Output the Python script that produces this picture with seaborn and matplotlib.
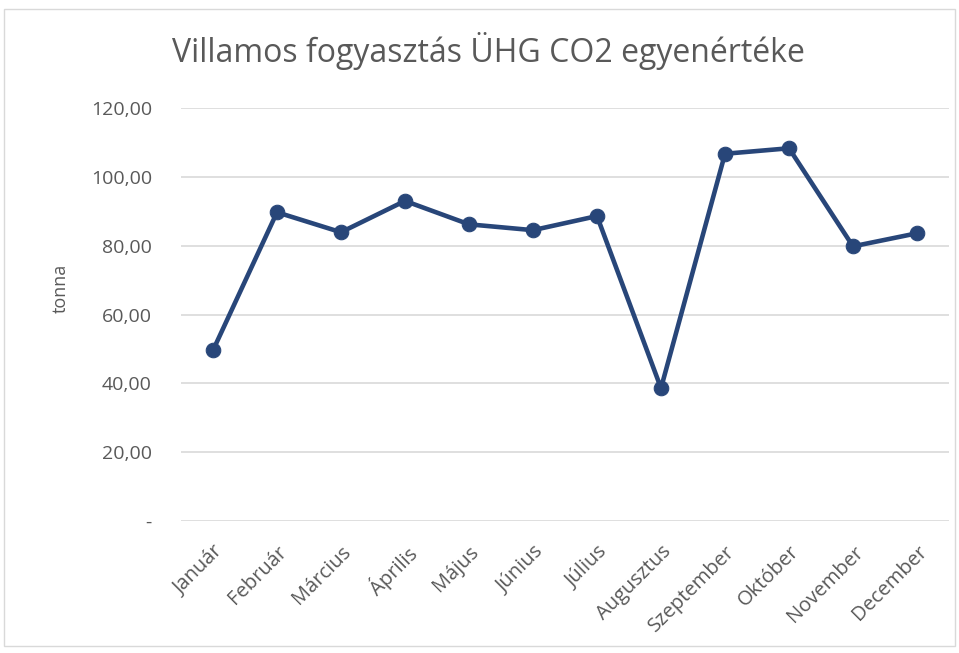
import matplotlib
matplotlib.use("Agg")
import matplotlib.pyplot as plt
import seaborn as sns
import pandas as pd
from matplotlib.patches import Rectangle
from matplotlib.ticker import FixedLocator

months = ["Január", "Február", "Március", "Április", "Május", "Június",
          "Július", "Augusztus", "Szeptember", "Október", "November", "December"]
values = [49.6, 89.7, 83.9, 93.0, 86.2, 84.5, 88.6, 38.6, 106.7, 108.3, 79.8, 83.6]
yticks = [0, 20, 40, 60, 80, 100, 120]
ytick_labels = ["-", "20,00", "40,00", "60,00", "80,00", "100,00", "120,00"]
title = "Villamos fogyasztás ÜHG CO2 egyenértéke"
ylabel = "tonna"

sns.set_theme(style="white")
plt.rcParams['font.family'] = ['Open Sans', 'DejaVu Sans']

df = pd.DataFrame({"x": range(len(months)), "y": values})

fig = plt.figure(figsize=(9.59, 6.53), dpi=100)
ax = fig.add_axes([181/959, 1-521/653, (949-181)/959, (521-108)/653])

color = "#284679"
sns.lineplot(data=df, x="x", y="y", ax=ax, color=color, linewidth=3.3,
             marker="o", markersize=10.5, markeredgecolor=color, zorder=3)

ax.set_xlim(-0.5, len(months)-0.5)
ax.set_ylim(0, 120)
ax.yaxis.set_major_locator(FixedLocator(yticks))
ax.set_yticklabels(ytick_labels)
ax.set_xticks(range(len(months)))
ax.set_xticklabels(months, rotation=45, ha="right", rotation_mode="anchor")
ax.tick_params(axis="both", colors="#595959", length=0)
ax.tick_params(axis="x", pad=15, labelsize=14.5)
ax.tick_params(axis="y", pad=21, labelsize=14)
ax.grid(axis="y", color="#D9D9D9", linewidth=1.2)
ax.set_axisbelow(True)
for s in ax.spines.values():
    s.set_visible(False)
ax.set_xlabel("")
ax.set_ylabel("")
fig.text(61/959, 1-288/653, ylabel, rotation=90, ha="center", va="center",
         color="#595959", fontsize=13)
fig.text(488/959, 1-62/653, title, ha="center", va="baseline",
         fontsize=23, color="#595959")

fig.patches.append(Rectangle((4/959, 1-646/653), 951/959, 637/653,
                             transform=fig.transFigure, fill=False,
                             edgecolor="#D9D9D9", linewidth=1))

fig.savefig("out.png", dpi=100)
